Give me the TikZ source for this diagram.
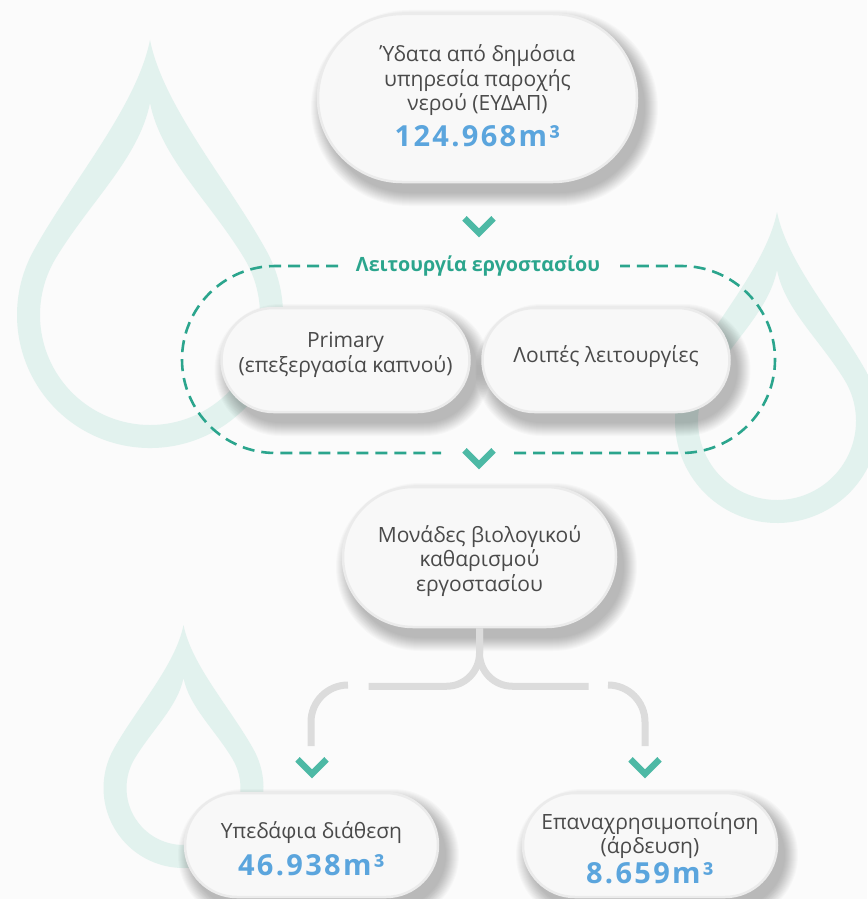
\documentclass[tikz,border=0pt]{standalone}
\usepackage{fontspec}
\setmainfont{Open Sans}
\newfontfamily\numfont[LetterSpace=8]{Open Sans}
\usetikzlibrary{shapes.misc}
\definecolor{bgc}{HTML}{FBFBFB}
\definecolor{dropc}{HTML}{E2F2EE}
\definecolor{pillc}{HTML}{F8F8F8}
\definecolor{pillb}{HTML}{EBEBEB}
\definecolor{txtc}{HTML}{4A4A4A}
\definecolor{numc}{HTML}{5BA5DD}
\definecolor{tealc}{HTML}{2BA58D}
\definecolor{chevc}{HTML}{4DB9A5}
\definecolor{connc}{HTML}{DCDCDC}
\newcommand\numtxt[1]{{\numfont\bfseries\fontsize{29}{32}\selectfont\color{numc}#1}}
\newcommand\waterdrop[6]{%
 \begin{scope}[shift={(#1,#2)},yscale=-1]
  \pgfmathsetmacro\dropA{asin(#3/#4)}%
  \pgfmathsetmacro\dropB{asin(#5/#6)}%
  \fill[dropc,even odd rule]
   (0,#4) .. controls ({0.1*#3},{#4-0.5*#3}) and ({#3*cos(\dropA)-0.6*#3*sin(\dropA)},{#3*sin(\dropA)+0.6*#3*cos(\dropA)}) .. ({#3*cos(\dropA)},{#3*sin(\dropA)})
   arc[start angle=\dropA, end angle={-180-\dropA}, radius=#3]
   .. controls ({-#3*cos(\dropA)+0.6*#3*sin(\dropA)},{#3*sin(\dropA)+0.6*#3*cos(\dropA)}) and ({-0.1*#3},{#4-0.5*#3}) .. (0,#4) -- cycle
   (0,#6) .. controls ({0.1*#5},{#6-0.5*#5}) and ({#5*cos(\dropB)-0.6*#5*sin(\dropB)},{#5*sin(\dropB)+0.6*#5*cos(\dropB)}) .. ({#5*cos(\dropB)},{#5*sin(\dropB)})
   arc[start angle=\dropB, end angle={-180-\dropB}, radius=#5]
   .. controls ({-#5*cos(\dropB)+0.6*#5*sin(\dropB)},{#5*sin(\dropB)+0.6*#5*cos(\dropB)}) and ({-0.1*#5},{#6-0.5*#5}) .. (0,#6) -- cycle;
 \end{scope}}
% soft shadow: stacked translucent rounded rectangles
\newcommand\pillshadow[4]{%
 \foreach \k in {1,...,14}{%
   \pgfmathsetmacro\shs{15-\k}%
   \pgfmathsetmacro\shr{#4/2+\shs-0.01}%
   \fill[black, fill opacity=0.021, rounded corners=\shr pt]
     ({#1-#3/2-\shs+7},{#2-#4/2-\shs+10}) rectangle ({#1+#3/2+\shs+7},{#2+#4/2+\shs+10});
 }}
% pill: name, cx, cy, w, h, text y, text
\newcommand\pill[7]{%
 \pillshadow{#2}{#3}{#4}{#5}
 \node[pillshape, minimum width=#4pt, minimum height=#5pt] (#1) at (#2,#3) {};
 \node[pilltext] (#1-t) at (#2,#6) {#7};
}
\begin{document}
\begin{tikzpicture}[x=1pt,y=-1pt,
  pillshape/.style={rounded rectangle, fill=pillc, draw=pillb, line width=2.5pt, inner sep=0pt},
  pilltext/.style={text=txtc, align=center, inner sep=0pt, font=\fontsize{21}{24.5}\selectfont},
  conn/.style={draw=connc, line width=7pt},
  dashline/.style={draw=tealc, line width=2.6pt, dash pattern=on 12pt off 7pt},
  chev/.pic={\fill[chevc] (-12.3,0) -- (0,12.3) -- (12.3,0) -- (16.7,4.7) -- (0,21.3) -- (-16.7,4.7) -- cycle;}
  ]
\useasboundingbox (0,0) rectangle (867,899);
\fill[bgc] (0,0) rectangle (867,899);
\waterdrop{150}{315}{133}{275}{110}{212}
\waterdrop{777}{421}{102}{209}{79}{151}
\waterdrop{183.5}{788}{80}{163}{57}{110}

% nodes
\pill{src}{477.5}{98}{319}{168}{96}{Ύδατα από δημόσια\\υπηρεσία παροχής\\νερού (ΕΥΔΑΠ)\\[9pt]\numtxt{124.968m³}}
\pill{prim}{345.5}{360}{248}{104}{355}{Primary\\(επεξεργασία καπνού)}
\pill{other}{606}{360}{247}{104}{357}{Λοιπές λειτουργίες}
\pill{mid}{479.5}{557}{273}{140}{561}{Μονάδες βιολογικού\\καθαρισμού\\εργοστασίου}
\pill{sub}{311.5}{845}{253}{104}{849}{Υπεδάφια διάθεση\\[10pt]\numtxt{46.938m³}}
\pill{reuse}{650}{845}{254}{104}{848}{Επαναχρησιμοποίηση\\(άρδευση)\\[3pt]\numtxt{8.659m³}}

\node[text=tealc, font=\bfseries\fontsize{19.7}{24}\selectfont, inner sep=2pt] (lbl) at (478,266) {Λειτουργία εργοστασίου};

% dashed group outline
\coordinate (gtl) at (338,266);
\coordinate (gtr) at (620,266);
\coordinate (gbl) at (441,453);
\coordinate (gbr) at (514,453);
\draw[dashline] (gtl) -- (275.5,266) arc[start angle=270, end angle=90, radius=93.5] -- (gbl);
\draw[dashline] (gbr) -- (681.5,453) arc[start angle=90, end angle=-90, radius=93.5] -- (gtr);

% connectors
\coordinate (lgap) at (348,685);
\coordinate (rgap) at (608,685);
\draw[conn] (mid.south) -- ++(0,25) arc[start angle=0, end angle=90, radius=33] -- ++(-78,0);
\draw[conn] (mid.south) -- ++(0,25) arc[start angle=180, end angle=90, radius=33] -- ++(76,0);
\draw[conn] (lgap) arc[start angle=270, end angle=180, radius=37] -- ++(0,24);
\draw[conn] (rgap) arc[start angle=270, end angle=360, radius=37] -- ++(0,24);

% chevrons
\pic at (479,216) {chev};
\pic at (479,448) {chev};
\pic at (312,757) {chev};
\pic at (645,757) {chev};
\end{tikzpicture}
\end{document}
